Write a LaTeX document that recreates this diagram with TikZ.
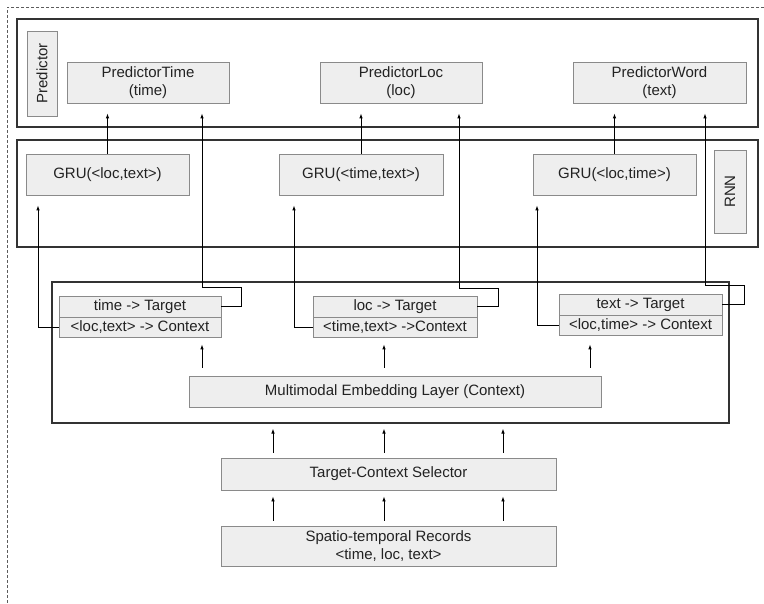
\documentclass[tikz,border=0pt]{standalone}
\usepackage{fontspec}
\setmainfont{Liberation Sans}
\usetikzlibrary{arrows.meta}
\definecolor{boxfill}{HTML}{EEEEEE}
\definecolor{boxline}{HTML}{8A8A8A}
\definecolor{frameline}{HTML}{333333}
\definecolor{txt}{HTML}{222222}
\tikzset{
  box/.style={draw=boxline, fill=boxfill, line width=0.9pt, inner sep=0pt, align=center, text=txt,
    font=\fontsize{15}{18}\selectfont},
  frame/.style={draw=frameline, line width=1.1pt, inner sep=0pt},
  conn/.style={draw=black, line width=0.9pt},
  arr/.style={conn, -{Latex[length=5pt,width=3.6pt]}},
  dashframe/.style={draw=frameline!80, line width=0.9pt, dash pattern=on 3pt off 2pt}
}
\begin{document}
\begin{tikzpicture}[x=1pt,y=-1pt]
\useasboundingbox (0,0) rectangle (764,604);
% dashed outer frame (open to the right and bottom)
\coordinate (dtr) at (764,7);
\coordinate (dtl) at (7,7);
\coordinate (dbl) at (7,604);
\draw[dashframe] (dtr) -- (dtl) -- (dbl);

% outer frames
\node[frame, minimum width=741pt, minimum height=108pt] (predOuter) at (387.5,73) {};
\node[frame, minimum width=741pt, minimum height=107pt] (rnnOuter) at (387.5,193.5) {};
\node[frame, minimum width=677pt, minimum height=141pt] (embOuter) at (390.5,352.5) {};

% predictor layer
\node[box, minimum width=30pt, minimum height=85pt] (predLabel) at (42,73.5) {\rotatebox{90}{Predictor}};
\node[box, minimum width=162pt, minimum height=41pt] (pTime) at (148,82.5) {PredictorTime\\(time)};
\node[box, minimum width=162pt, minimum height=41pt] (pLoc) at (401,82.5) {PredictorLoc\\(loc)};
\node[box, minimum width=173pt, minimum height=41pt] (pWord) at (659.5,82.5) {PredictorWord\\(text)};

% RNN layer
\node[box, minimum width=163pt, minimum height=41pt] (gru1) at (107.5,174.5) {GRU(<loc,text>)};
\node[box, minimum width=164pt, minimum height=41pt] (gru2) at (361,174.5) {GRU(<time,text>)};
\node[box, minimum width=163pt, minimum height=41pt] (gru3) at (614.5,174.5) {GRU(<loc,time>)};
\node[box, minimum width=32pt, minimum height=83pt] (rnnLabel) at (730,191.5) {\rotatebox{90}{RNN}};

% target / context boxes
\node[box, minimum width=162pt, minimum height=21pt] (t1a) at (140,306.5) {time -> Target};
\node[box, minimum width=162pt, minimum height=20pt] (t1b) at (140,327) {<loc,text> -> Context};
\node[box, minimum width=164pt, minimum height=21pt] (t2a) at (395,306.5) {loc -> Target};
\node[box, minimum width=164pt, minimum height=20pt] (t2b) at (395,327) {<time,text> ->Context};
\node[box, minimum width=163pt, minimum height=21pt] (t3a) at (640.5,304.5) {text -> Target};
\node[box, minimum width=163pt, minimum height=20pt] (t3b) at (640.5,325) {<loc,time> -> Context};

% embedding, selector, records
\node[box, minimum width=412pt, minimum height=31pt] (emb) at (395,391.5) {Multimodal Embedding Layer (Context)};
\node[box, minimum width=335pt, minimum height=32pt] (sel) at (388.5,474) {Target-Context Selector};
\node[box, minimum width=335pt, minimum height=40pt] (rec) at (388.5,546) {Spatio-temporal Records\\<time, loc, text>};

% GRU -> predictor
\draw[arr, shorten >=10pt] (gru1.north) -- (gru1.north |- pTime.south);
\draw[arr, shorten >=10pt] (gru2.north) -- (gru2.north |- pLoc.south);
\draw[arr, shorten >=10pt] (gru3.north) -- (gru3.north |- pWord.south);

% target rows -> predictors
\draw[arr, shorten >=10pt] (t1a.east) -- ++(20,0) |- (202,287) -- (pTime.south -| 202,0);
\draw[arr, shorten >=10pt] (t2a.east) -- ++(21,0) |- (459,288) -- (pLoc.south -| 459,0);
\draw[arr, shorten >=10pt] (t3a.east) -- ++(22,0) |- (705,285) -- (pWord.south -| 705,0);

% context rows -> GRUs
\draw[arr, shorten >=10pt] (t1b.west) -| (gru1.south -| 38,0);
\draw[arr, shorten >=10pt] (t2b.west) -| (gru2.south -| 294,0);
\draw[arr, shorten >=10pt] (t3b.west) -| (gru3.south -| 537,0);

% embedding -> target boxes
\draw[arr, shorten <=8pt, shorten >=7pt] (emb.north -| 202,0) -- (t1b.south -| 202,0);
\draw[arr, shorten <=8pt, shorten >=7pt] (emb.north -| 384,0) -- (t2b.south -| 384,0);
\draw[arr, shorten <=8pt, shorten >=9pt] (emb.north -| 590,0) -- (t3b.south -| 590,0);

% selector -> embedding frame
\foreach \xx in {273,384,503}{
  \draw[arr, shorten <=5pt, shorten >=5pt] (sel.north -| \xx,0) -- (embOuter.south -| \xx,0);
  \draw[arr, shorten <=5pt, shorten >=6pt] (rec.north -| \xx,0) -- (sel.south -| \xx,0);
}
\end{tikzpicture}
\end{document}
